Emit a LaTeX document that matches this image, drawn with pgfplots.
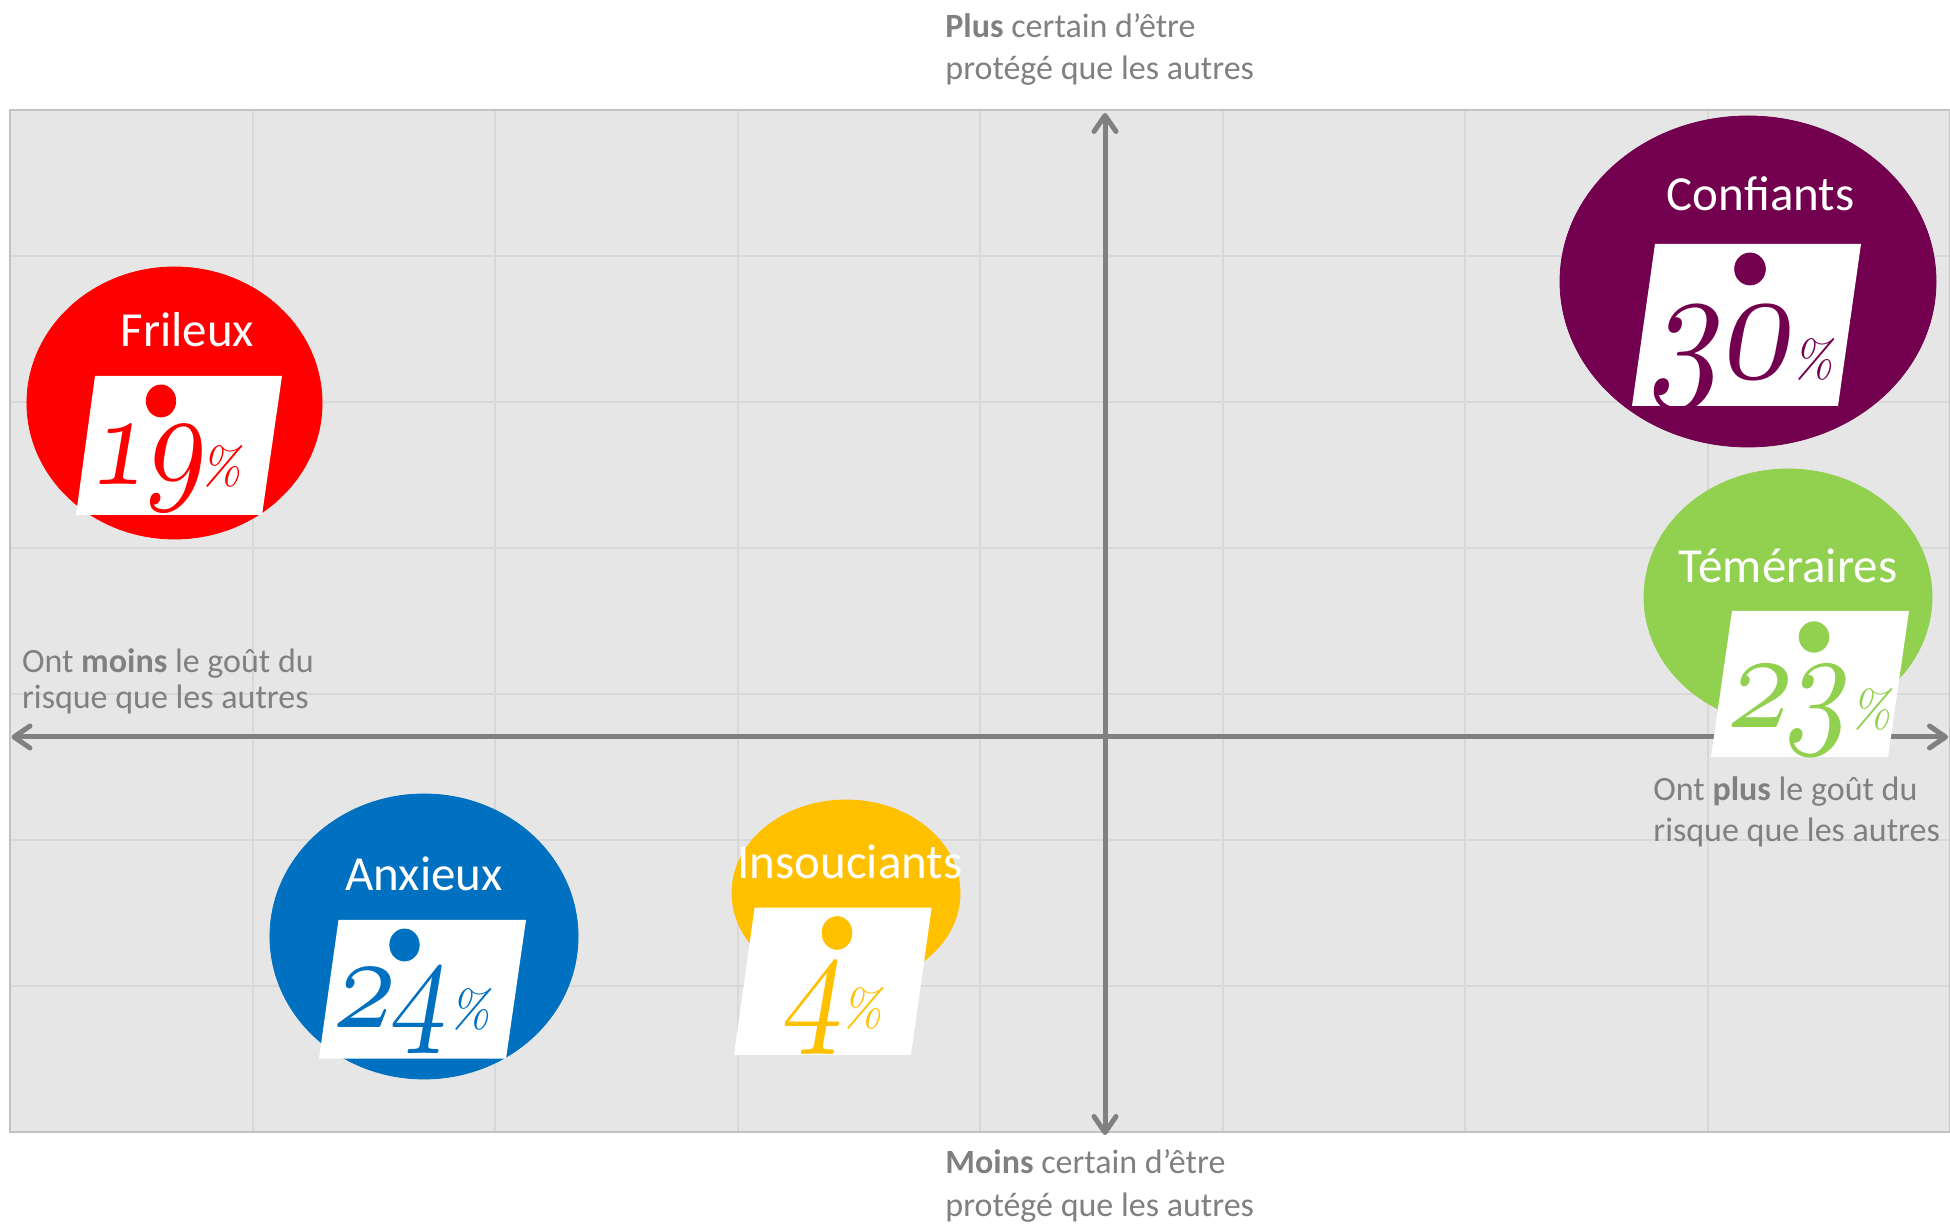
\documentclass[border=0pt]{standalone}
\usepackage{fontspec}
\setmainfont{Carlito}
\newfontfamily\lmfont{Latin Modern Roman}
\usepackage{pgfplots}
\pgfplotsset{compat=1.18}
\usetikzlibrary{arrows.meta}
\definecolor{bg}{HTML}{E6E6E6}
\definecolor{gridc}{HTML}{D8D8D8}
\definecolor{txtgray}{HTML}{808080}
\definecolor{cConf}{RGB}{115,0,78}
\definecolor{cFril}{HTML}{FF0000}
\definecolor{cTem}{HTML}{92D050}
\definecolor{cAnx}{HTML}{0070C0}
\definecolor{cIns}{HTML}{FFC000}
\tikzset{
  nm/.style={anchor=base, inner sep=0pt, text=white, font=\fontsize{24.5pt}{28pt}\selectfont},
  lbl/.style={anchor=base west, inner sep=0pt, text=txtgray, font=\fontsize{17pt}{20pt}\selectfont},
  dig/.style={anchor=base west, inner sep=0pt, transform shape, scale=#1, xscale=0.85, xslant=0.2},
  pct/.style={anchor=base west, inner sep=0pt, font=\lmfont\itshape\fontsize{26pt}{28pt}\selectfont},
  arr/.style={txtgray, line width=2.5pt, {Straight Barb[length=8pt,width=11pt,round]}-{Straight Barb[length=8pt,width=11pt,round]}}
}
\begin{document}
\begin{tikzpicture}
\begin{axis}[name=ax, scale only axis, width=970pt, height=511pt,
  xmin=0, xmax=1940, ymin=0, ymax=1022,
  xtick={0,242.5,...,1940}, ytick={0,146,...,1022},
  xticklabels={}, yticklabels={}, major tick length=0pt,
  grid=major, grid style={gridc, line width=1pt},
  axis background/.style={fill=bg},
  axis line style={draw=gridc!90!black, line width=1pt},
  clip=false, clip marker paths=true]

% axes of the map
\draw[arr] (axis cs:1.5,395) -- (axis cs:1938,395);
\draw[arr] (axis cs:1095,-3) -- (axis cs:1095,1019);

% bubbles
\addplot[only marks, mark=*, color=cFril, mark size=68pt, mark options={xscale=1.085}] coordinates {(164.5,729)};
\addplot[only marks, mark=*, color=cConf, mark size=82.75pt, mark options={xscale=1.136}] coordinates {(1738,850.5)};
\addplot[only marks, mark=*, color=cTem, mark size=64pt, mark options={xscale=1.125}] coordinates {(1778,535)};
\addplot[only marks, mark=*, color=cAnx, mark size=71.25pt, mark options={xscale=1.081}] coordinates {(414,195.5)};
\addplot[only marks, mark=*, color=cIns, mark size=46.5pt, mark options={xscale=1.226}] coordinates {(836,239)};

% white tags
\addplot[fill=white, draw=none, mark=none] coordinates {(85,756) (272,756) (252,617) (66,617)};
\addplot[fill=white, draw=none, mark=none] coordinates {(1645,888) (1851,888) (1828,726) (1622,726)};
\addplot[fill=white, draw=none, mark=none] coordinates {(1722,521) (1899,521) (1878,375) (1701,375)};
\addplot[fill=white, draw=none, mark=none] coordinates {(328.5,212) (516,212) (496,73.3) (309,73.3)};
\addplot[fill=white, draw=none, mark=none] coordinates {(744.6,224.3) (921.6,224.3) (901,77) (724,77)};

% tag holes
\addplot[only marks, mark=*, color=cFril, mark size=8pt, mark options={xscale=0.92}] coordinates {(151,731)};
\addplot[only marks, mark=*, color=cConf, mark size=8pt, mark options={xscale=0.96}] coordinates {(1740,863)};
\addplot[only marks, mark=*, color=cTem, mark size=7.6pt, mark options={xscale=0.98}] coordinates {(1804,495)};
\addplot[only marks, mark=*, color=cAnx, mark size=8pt, mark options={xscale=0.92}] coordinates {(394.5,187)};
\addplot[only marks, mark=*, color=cIns, mark size=8.2pt, mark options={xscale=0.91}] coordinates {(827,199)};

% names
\node[nm] at (axis cs:177.5,785) {Frileux};
\node[nm] at (axis cs:1750.5,921.3) {Confiants};
\node[nm] at (axis cs:1778,549) {Téméraires};
\node[nm] at (axis cs:414,241.3) {Anxieux};
\node[nm] at (axis cs:840,253) {Insouciants};

% values
\node[dig=6.73, text=cFril] at (axis cs:76,647) {$\mathnormal{19}$};
\node[pct, text=cFril] at (axis cs:189,647) {\%};
\node[dig=8.13, text=cConf] at (axis cs:1638,754) {$\mathnormal{30}$};
\node[pct, text=cConf] at (axis cs:1781,754) {\%};
\node[dig=7.08, text=cTem] at (axis cs:1714,404) {$\mathnormal{23}$};
\node[pct, text=cTem] at (axis cs:1839,404) {\%};
\node[dig=6.73, text=cAnx] at (axis cs:320,104) {$\mathnormal{24}$};
\node[pct, text=cAnx] at (axis cs:438,104) {\%};
\node[dig=7.2, text=cIns] at (axis cs:769,105) {$\mathnormal{4}$};
\node[pct, text=cIns] at (axis cs:830,105) {\%};

% axis descriptions
\node[lbl] at (axis cs:935,1094.7) {\textbf{Plus} certain d’être};
\node[lbl] at (axis cs:935,1052) {protégé que les autres};
\node[lbl] at (axis cs:935,-42) {\textbf{Moins} certain d’être};
\node[lbl] at (axis cs:935,-85) {protégé que les autres};
\node[lbl] at (axis cs:11.7,459) {Ont \textbf{moins} le goût du};
\node[lbl] at (axis cs:11.7,423) {risque que les autres};
\node[lbl] at (axis cs:1643,331.3) {Ont \textbf{plus} le goût du};
\node[lbl] at (axis cs:1643,290.3) {risque que les autres};
\end{axis}
\pgfresetboundingbox
\useasboundingbox ([xshift=-5pt,yshift=-46pt]ax.south west) rectangle ([yshift=55pt]ax.north east);
\end{tikzpicture}
\end{document}
